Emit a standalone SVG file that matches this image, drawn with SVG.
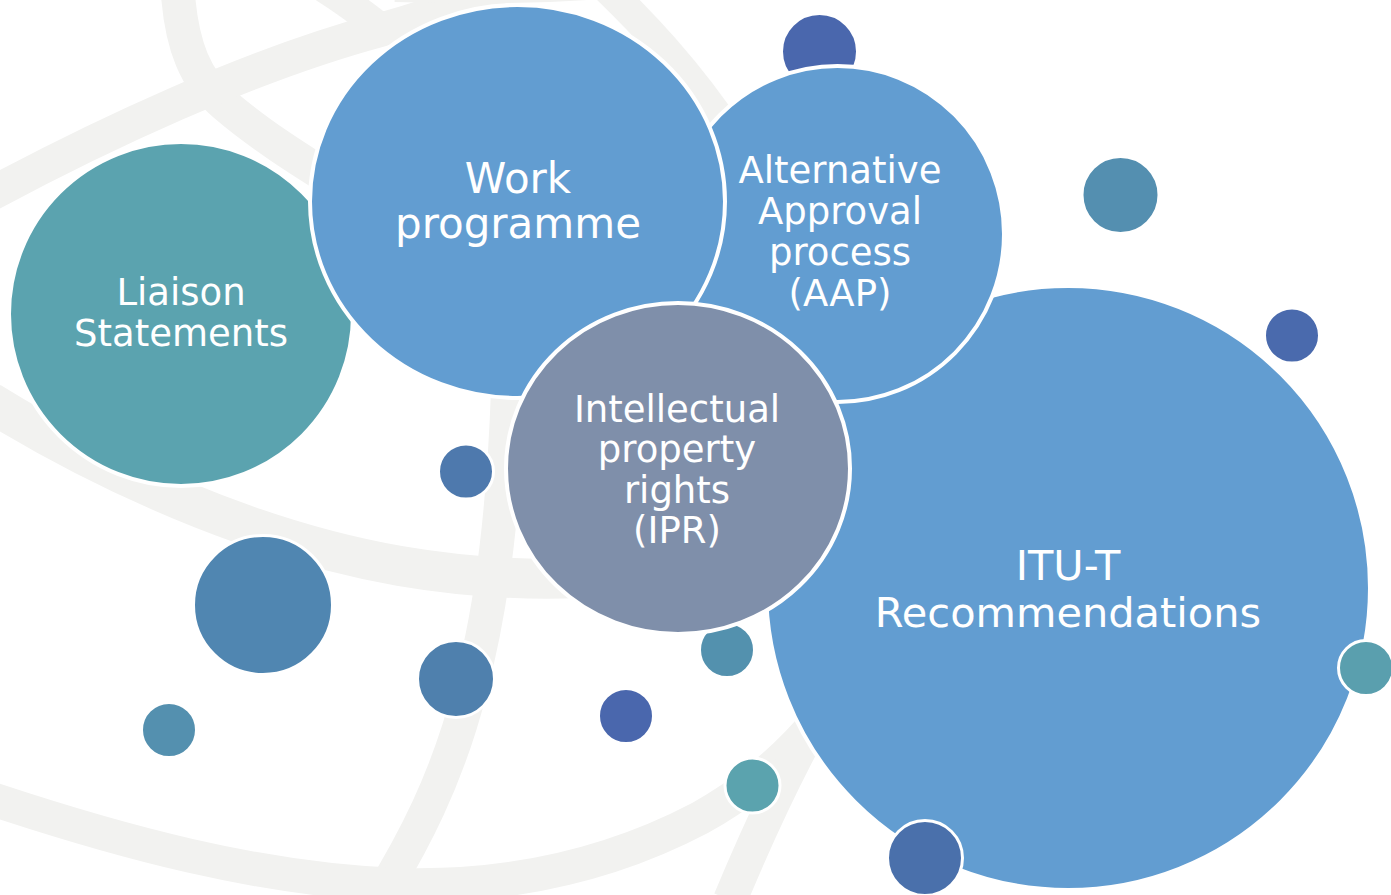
<svg xmlns="http://www.w3.org/2000/svg" width="1391" height="895" viewBox="0 0 1391 895">
  <style>
    .band { fill: none; stroke: #f2f2f0; stroke-width: 34; stroke-linecap: butt; }
    .big { stroke: #ffffff; stroke-width: 4; }
    .dot { stroke: #ffffff; stroke-width: 3; }
    .lbl { font-family: "DejaVu Sans", "Liberation Sans", sans-serif; fill: #ffffff; text-anchor: middle; }
    .blue { fill: #629dd1; }
  </style>
  <rect x="0" y="0" width="1391" height="895" fill="#ffffff"/>
  <g id="background-globe">
    <path class="band" d="M 178,-5 C 182,45 195,80 225,105 C 260,135 300,160 340,185"/>
    <path class="band" d="M -20,200 C 100,135 250,65 380,30 C 430,16 470,2 520,-22"/>
    <path class="band" style="stroke-width:30" d="M 315,-18 C 335,-6 355,8 378,26"/>
    <path class="band" style="stroke-width:30" d="M 395,-13 C 470,-11 540,-11 600,-16"/>
    <path class="band" style="stroke-width:30" d="M 598,-20 C 640,20 688,70 733,138"/>
    <path class="band" style="stroke-width:40" d="M -10,402 C 100,470 250,540 400,566 C 470,578 530,580 580,578"/>
    <path class="band" d="M 508,390 C 504,500 494,600 470,690 C 447,780 412,845 378,900"/>
    <path class="band" d="M -20,795 C 120,842 260,880 400,885 C 520,888 620,860 700,818 C 750,790 790,755 820,718"/>
    <path class="band" d="M 730,900 C 755,840 780,785 810,730"/>
  </g>
  <g id="connectors"/>
  <g id="dot-back-1"><circle class="dot" cx="819.5" cy="51.5" r="38" fill="#4a67ad"/></g>
  <g id="dot-back-2"><circle class="dot" cx="727" cy="650" r="27.5" fill="#5391ae"/></g>
  <g id="node-itu-t">
    <circle class="big blue" cx="1068" cy="588" r="302"/>
    <text class="lbl" font-size="41.5"><tspan x="1068" y="580">ITU-T</tspan><tspan x="1068" y="627">Recommendations</tspan></text>
  </g>
  <g id="node-aap">
    <ellipse class="big blue" cx="837.5" cy="234" rx="166.5" ry="168"/>
    <text class="lbl" font-size="37"><tspan x="840" y="183">Alternative</tspan><tspan x="840" y="224">Approval</tspan><tspan x="840" y="265">process</tspan><tspan x="840" y="306">(AAP)</tspan></text>
  </g>
  <g id="node-liaison">
    <circle class="big" cx="181" cy="314" r="172" fill="#5ba3af"/>
    <text class="lbl" font-size="37"><tspan x="181" y="305">Liaison</tspan><tspan x="181" y="346">Statements</tspan></text>
  </g>
  <g id="node-work-programme">
    <ellipse class="big blue" cx="517.5" cy="201.5" rx="207.5" ry="196.5"/>
    <text class="lbl" font-size="42"><tspan x="518" y="193">Work</tspan><tspan x="518" y="238">programme</tspan></text>
  </g>
  <g id="node-ipr">
    <ellipse class="big" cx="678" cy="468.5" rx="172" ry="165.5" fill="#7f8faa"/>
    <text class="lbl" font-size="37"><tspan x="677" y="422">Intellectual</tspan><tspan x="677" y="462">property</tspan><tspan x="677" y="503">rights</tspan><tspan x="677" y="543">(IPR)</tspan></text>
  </g>
  <g id="dots">
    <circle class="dot" cx="1120.5" cy="195" r="38.5" fill="#548fb0"/>
    <circle class="dot" cx="1292" cy="335.5" r="27.5" fill="#4a6aad"/>
    <circle class="dot" cx="1366" cy="668" r="27.5" fill="#5a9fae"/>
    <circle class="dot" cx="925" cy="858" r="37.5" fill="#4a70ab"/>
    <circle class="dot" cx="752.5" cy="785.5" r="27.5" fill="#5ba3ae"/>
    <circle class="dot" cx="626" cy="716" r="27.5" fill="#4a67ad"/>
    <circle class="dot" cx="456" cy="679" r="38.5" fill="#4f80ad"/>
    <circle class="dot" cx="466" cy="471.5" r="27.5" fill="#4e79ad"/>
    <circle class="dot" cx="263" cy="605" r="69.5" fill="#5086b1"/>
    <circle class="dot" cx="169" cy="730" r="27.5" fill="#5490af"/>
  </g>
</svg>
